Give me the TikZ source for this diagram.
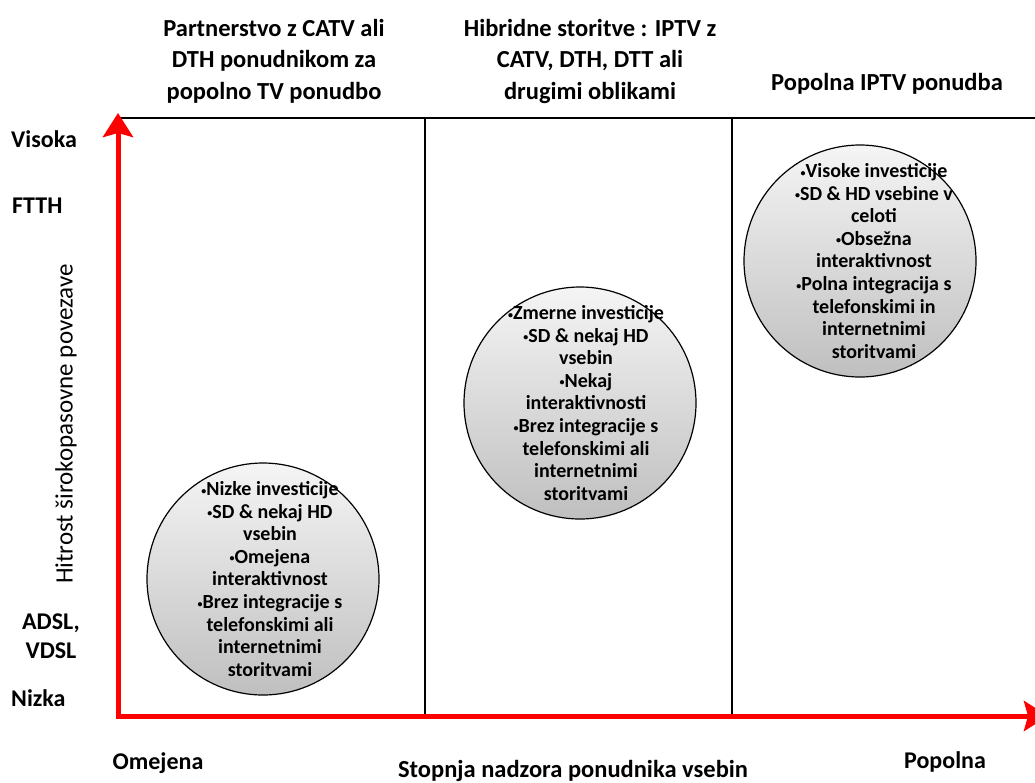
\documentclass[tikz,border=0pt]{standalone}
\usepackage{fontspec}
\setmainfont{Carlito}
\usetikzlibrary{arrows.meta,shadings}
\definecolor{axisred}{RGB}{255,0,0}
\newcommand{\bul}{\raisebox{1.5pt}{\fontsize{10}{10}\selectfont •}}
\tikzset{
  title/.style={font=\bfseries\fontsize{24.5}{31.5}\selectfont, align=center, inner sep=0pt},
  axlabel/.style={font=\bfseries\fontsize{24}{29}\selectfont, align=center, inner sep=0pt},
  bubble/.style={circle, draw=black, line width=1.2pt, minimum size=232pt, top color=gray!8, bottom color=gray!50, shading angle=0},
  bubbletext/.style={font=\bfseries\fontsize{20}{22.6}\selectfont, align=center, inner sep=0pt},
  grid/.style={draw=black, line width=1.5pt},
  axis/.style={draw=axisred, fill=axisred, line width=5pt, -{Stealth[width=30pt,length=24pt,inset=4pt]}}
}
\begin{document}
\begin{tikzpicture}[x=1pt,y=-1pt]
\useasboundingbox (0,0) rectangle (1035,782);
% grid
\coordinate (tl) at (118,118);
\coordinate (tr) at (1035,118);
\coordinate (d1t) at (425,118);
\coordinate (d1b) at (425,716);
\coordinate (d2t) at (732,118);
\coordinate (d2b) at (732,716);
\draw[grid] (tl) -- (tr);
\draw[grid] (d1t) -- (d1b);
\draw[grid] (d2t) -- (d2b);
% axes
\coordinate (o) at (118,716);
\coordinate (ytip) at (118,113);
\coordinate (xtip) at (1048,716);
\draw[axis] (o) -- (ytip);
\draw[axis] ([xshift=-2.5pt]o) -- (xtip);
% titles
\node[title] (t1) at (274,61) {Partnerstvo z CATV ali\\DTH ponudnikom za\\popolno TV ponudbo};
\node[title] (t2) at (590,61) {Hibridne storitve : IPTV z\\CATV, DTH, DTT ali\\drugimi oblikami};
\node[title] (t3) at (887,84) {Popolna IPTV ponudba};
% y labels
\node[axlabel, anchor=west] (vis) at (11,139) {Visoka};
\node[axlabel, anchor=west] (ftth) at (12,206) {FTTH};
\node[axlabel] (adsl) at (51,636) {ADSL,\\VDSL};
\node[axlabel, anchor=west] (niz) at (11,698) {Nizka};
\node[font=\fontsize{25}{29}\selectfont, rotate=90, inner sep=0pt] (ylab) at (66,424) {Hitrost širokopasovne povezave};
% x labels
\node[axlabel] (ome) at (158,763) {Omejena};
\node[axlabel] (pop) at (945,762) {Popolna};
\node[axlabel, font=\bfseries\fontsize{24.5}{29}\selectfont] (xlab) at (573,771) {Stopnja nadzora ponudnika vsebin};
% bubbles
\node[bubble] (b3) at (860,261) {};
\node[bubbletext] at ([xshift=14pt]b3.center) {\bul Visoke investicije\\\bul SD \& HD vsebine v\\celoti\\\bul Obsežna\\interaktivnost\\\bul Polna integracija s\\telefonskimi in\\internetnimi\\storitvami};
\node[bubble] (b2) at (580,403) {};
\node[bubbletext] at ([xshift=6pt]b2.center) {\bul Zmerne investicije\\\bul SD \& nekaj HD\\vsebin\\\bul Nekaj\\interaktivnosti\\\bul Brez integracije s\\telefonskimi ali\\internetnimi\\storitvami};
\node[bubble] (b1) at (263,579) {};
\node[bubbletext] at ([xshift=7pt]b1.center) {\bul Nizke investicije\\\bul SD \& nekaj HD\\vsebin\\\bul Omejena\\interaktivnost\\\bul Brez integracije s\\telefonskimi ali\\internetnimi\\storitvami};
\end{tikzpicture}
\end{document}
